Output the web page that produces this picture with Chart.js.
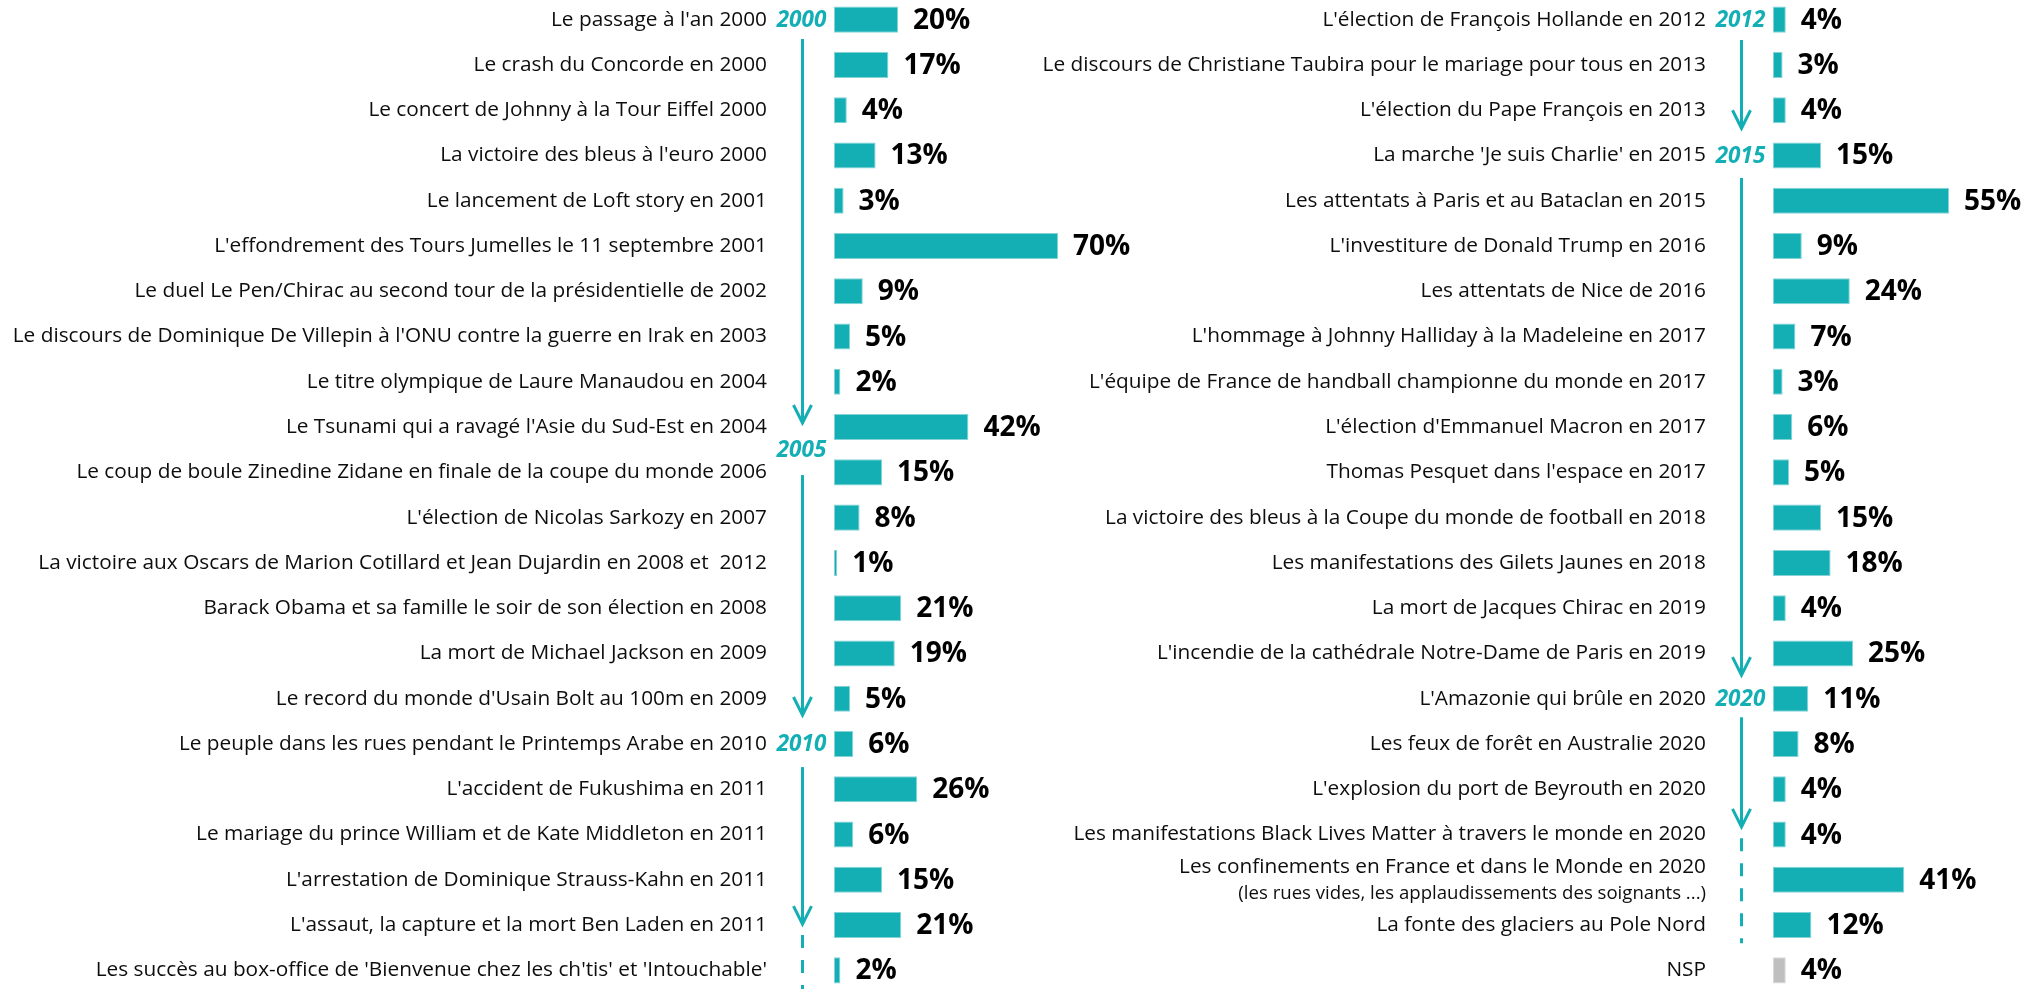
<!DOCTYPE html>
<html><head><meta charset="utf-8">
<script src="https://cdn.jsdelivr.net/npm/chart.js@4.4.1/dist/chart.umd.min.js"></script>
<style>
html,body{margin:0;padding:0;background:#fff;overflow:hidden;width:2024px;height:989px;}
#wl{position:absolute;left:0;top:-3px;width:1200px;height:996px;}
#wr{position:absolute;left:1000px;top:-3px;width:1024px;height:996px;}
</style></head><body>
<div id="wl"><canvas id="cl"></canvas></div>
<div id="wr"><canvas id="cr"></canvas></div>
<script>
const leftCategories = [
  "Le passage à l'an 2000",
  "Le crash du Concorde en 2000",
  "Le concert de Johnny à la Tour Eiffel 2000",
  "La victoire des bleus à l'euro 2000",
  "Le lancement de Loft story en 2001",
  "L'effondrement des Tours Jumelles le 11 septembre 2001",
  "Le duel Le Pen/Chirac au second tour de la présidentielle de 2002",
  "Le discours de Dominique De Villepin à l'ONU contre la guerre en Irak en 2003",
  "Le titre olympique de Laure Manaudou en 2004",
  "Le Tsunami qui a ravagé l'Asie du Sud-Est en 2004",
  "Le coup de boule Zinedine Zidane en finale de la coupe du monde 2006",
  "L'élection de Nicolas Sarkozy en 2007",
  "La victoire aux Oscars de Marion Cotillard et Jean Dujardin en 2008 et  2012",
  "Barack Obama et sa famille le soir de son élection en 2008",
  "La mort de Michael Jackson en 2009",
  "Le record du monde d'Usain Bolt au 100m en 2009",
  "Le peuple dans les rues pendant le Printemps Arabe en 2010",
  "L'accident de Fukushima en 2011",
  "Le mariage du prince William et de Kate Middleton en 2011",
  "L'arrestation de Dominique Strauss-Kahn en 2011",
  "L'assaut, la capture et la mort Ben Laden en 2011",
  "Les succès au box-office de 'Bienvenue chez les ch'tis' et 'Intouchable'"
];
const leftValues = [20,17,4,13,3,70,9,5,2,42,15,8,1,21,19,5,6,26,6,15,21,2];

const rightCategories = [
  "L'élection de François Hollande en 2012",
  "Le discours de Christiane Taubira pour le mariage pour tous en 2013",
  "L'élection du Pape François en 2013",
  "La marche 'Je suis Charlie' en 2015",
  "Les attentats à Paris et au Bataclan en 2015",
  "L'investiture de Donald Trump en 2016",
  "Les attentats de Nice de 2016",
  "L'hommage à Johnny Halliday à la Madeleine en 2017",
  "L'équipe de France de handball championne du monde en 2017",
  "L'élection d'Emmanuel Macron en 2017",
  "Thomas Pesquet dans l'espace en 2017",
  "La victoire des bleus à la Coupe du monde de football en 2018",
  "Les manifestations des Gilets Jaunes en 2018",
  "La mort de Jacques Chirac en 2019",
  "L'incendie de la cathédrale Notre-Dame de Paris en 2019",
  "L'Amazonie qui brûle en 2020",
  "Les feux de forêt en Australie 2020",
  "L'explosion du port de Beyrouth en 2020",
  "Les manifestations Black Lives Matter à travers le monde en 2020",
  "Les confinements en France et dans le Monde en 2020",
  "La fonte des glaciers au Pole Nord",
  "NSP"
];
const rightValues = [4,3,4,15,55,9,24,7,3,6,5,15,18,4,25,11,8,4,4,41,12,4];
const rightNotes = {19: "(les rues vides, les applaudissements des soignants ...)"};

const leftYears = ['2000','2005','2010'];
const rightYears = ['2012','2015','2020'];

const TEAL = '#13AFB5';
const TEAL_EDGE = '#86D3D6';
const GRAY = '#BFBFBF';
const GRAY_EDGE = '#D9D9D9';
const LABEL_FONT = 'Open Sans';
const LABEL_SIZE = 20.8;
const LABEL_LH = 1.2;

// timeline decoration, in row units
const leftTimeline = {
  years: [0, 9.5, 16],
  segs: [[0.43, 8.91], [10.06, 15.36], [16.51, 19.98]],
  dash: [20.22, 21.8]
};
const rightTimeline = {
  years: [0, 3, 15],
  segs: [[0.45, 2.40], [3.50, 14.48], [15.41, 17.83]],
  dash: [18.08, 20.4]
};

const valuePlugin = {
  id: 'values',
  afterDatasetsDraw(chart) {
    const ctx = chart.ctx;
    const meta = chart.getDatasetMeta(0);
    const data = chart.data.datasets[0].data;
    ctx.save();
    ctx.font = 'bold 28px "' + LABEL_FONT + '"';
    ctx.fillStyle = '#000';
    ctx.textBaseline = 'middle';
    ctx.textAlign = 'left';
    meta.data.forEach((bar, i) => {
      ctx.fillText(data[i] + '%', bar.x + 15, bar.y + 1);
    });
    ctx.restore();
  }
};

function timelinePlugin(years, tl, notes) {
  return {
    id: 'timeline',
    afterDraw(chart) {
      const ctx = chart.ctx;
      const ys = chart.scales.y;
      const y0 = ys.getPixelForValue(0);
      const pitch = ys.getPixelForValue(1) - y0;
      const rowY = r => y0 + r * pitch;
      const x = chart.chartArea.left - 31.5;
      ctx.save();
      ctx.font = 'italic bold 22.5px "' + LABEL_FONT + '"';
      ctx.fillStyle = TEAL;
      ctx.textAlign = 'center';
      ctx.textBaseline = 'middle';
      years.forEach((t, k) => ctx.fillText(t, x - 1, rowY(tl.years[k]) + 1));
      ctx.strokeStyle = TEAL;
      ctx.lineWidth = 3;
      ctx.lineCap = 'butt';
      tl.segs.forEach(([a, b]) => {
        const ya = rowY(a), yb = rowY(b);
        ctx.beginPath();
        ctx.moveTo(x, ya); ctx.lineTo(x, yb - 1);
        ctx.stroke();
        ctx.beginPath();
        ctx.moveTo(x - 9, yb - 18); ctx.lineTo(x, yb); ctx.lineTo(x + 9, yb - 18);
        ctx.stroke();
      });
      ctx.setLineDash([13, 12]);
      ctx.beginPath();
      ctx.moveTo(x, rowY(tl.dash[0])); ctx.lineTo(x, rowY(tl.dash[1]));
      ctx.stroke();
      ctx.setLineDash([]);
      if (notes) {
        ctx.font = '18.6px "' + LABEL_FONT + '"';
        ctx.fillStyle = '#0d0d0d';
        ctx.textAlign = 'right';
        Object.keys(notes).forEach(k => {
          const lh = LABEL_SIZE * LABEL_LH;
          ctx.fillText(notes[k], chart.chartArea.left - 67, rowY(+k) + lh / 2 + 1);
        });
      }
      ctx.restore();
    }
  };
}

function makeChart(id, cats, vals, notes, axisWidth, xMax, padRight, years, tl) {
  return new Chart(document.getElementById(id), {
    type: 'bar',
    data: {
      labels: cats,
      datasets: [{
        data: vals,
        backgroundColor: c => cats[c.dataIndex] === 'NSP' ? GRAY : TEAL,
        borderColor: c => cats[c.dataIndex] === 'NSP' ? GRAY_EDGE : TEAL_EDGE,
        borderWidth: 1,
        borderSkipped: false,
        barPercentage: 0.575,
        categoryPercentage: 1
      }]
    },
    options: {
      indexAxis: 'y',
      responsive: true,
      maintainAspectRatio: false,
      animation: false,
      devicePixelRatio: 1,
      layout: {padding: {left: 0, right: padRight, top: 0, bottom: 0}},
      plugins: {legend: {display: false}, tooltip: {enabled: false}},
      scales: {
        x: {display: false, min: 0, max: xMax},
        y: {
          position: 'left',
          grid: {display: false, drawTicks: false},
          border: {display: false},
          afterFit: s => { s.width = axisWidth; s.paddingTop = 0; s.paddingBottom = 0; },
          ticks: {
            padding: 67,
            autoSkip: false,
            color: '#0d0d0d',
            font: {family: LABEL_FONT, size: LABEL_SIZE, lineHeight: LABEL_LH},
            callback: (v, i) => (notes && notes[i]) ? [cats[i], ' '] : cats[i]
          }
        }
      }
    },
    plugins: [valuePlugin, timelinePlugin(years, tl, notes)]
  });
}

Promise.all([
  document.fonts.load('20px "Open Sans"'),
  document.fonts.load('bold 28px "Open Sans"'),
  document.fonts.load('italic bold 22px "Open Sans"')
]).catch(() => {}).then(() => {
  makeChart('cl', leftCategories, leftValues, null, 834, 100, 1200 - 834 - 320, leftYears, leftTimeline);
  makeChart('cr', rightCategories, rightValues, rightNotes, 773, 70, 1024 - 773 - 224, rightYears, rightTimeline);
});
</script>
</body></html>
